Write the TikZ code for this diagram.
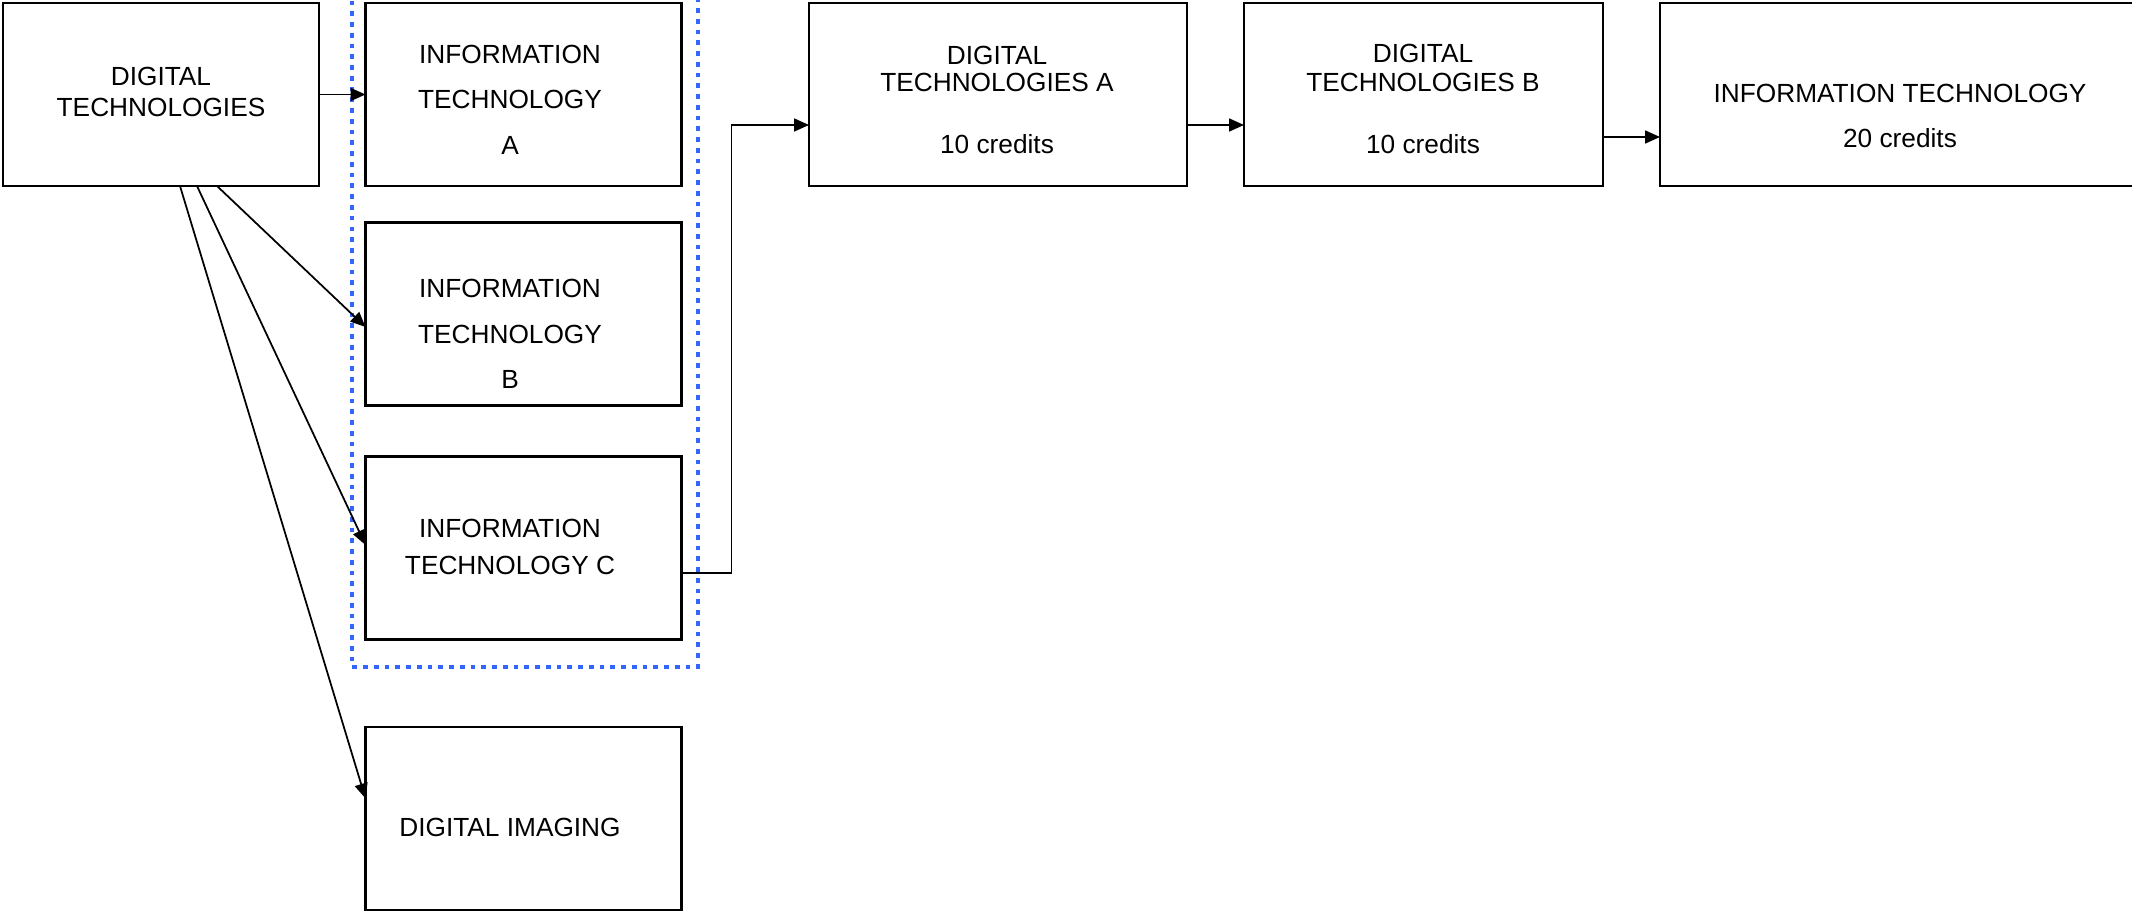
\documentclass[tikz,border=0pt]{standalone}
\usepackage{fontspec}
\setmainfont{Liberation Sans}
\usetikzlibrary{arrows.meta,calc}

\definecolor{itblue}{RGB}{51,102,255}

\tikzset{
  box/.style={draw, line width=1pt, rectangle, inner sep=0pt, outer sep=0pt, minimum width=126.4pt, minimum height=73.2pt},
  lbl/.style={inner sep=0pt, align=center, font=\fontsize{10.5pt}{10.8pt}\selectfont},
  arr/.style={line width=0.7pt, -{Triangle[length=6pt,width=5.2pt]}},
  itgroup/.style={draw=itblue, line width=1.9pt, dash pattern=on 1.9pt off 2.4pt}
}

\begin{document}
\begin{tikzpicture}[x=0.4pt,y=0.4pt,yscale=-1,xscale=1]
\useasboundingbox (0,0) rectangle (2132,912);

%Shape: dotted group round the IT options
\draw[itgroup] (352,-10) rectangle (698,667);

%Shape: boxes
\node[box] (dt)  at (161,94.5) {};
\node[box] (ita) at (523.5,94.5) {};
\node[box] (itb) at (523.5,314) {};
\node[box] (itc) at (523.5,548) {};
\node[box] (di)  at (523.5,818.5) {};
\node[box, minimum width=151.2pt] (dta) at (998,94.5) {};
\node[box, minimum width=143.6pt] (dtb) at (1423.5,94.5) {};
\node[box, minimum width=196pt]   (it)  at (1905,94.5) {};

%Straight Lines
\draw[arr] (dt) -- (ita);
\draw[arr] ($(dt.south)+(56,0)$) -- ($(itb.west)+(0,13)$);
\draw[arr] ($(dt.south)+(36,0)$) -- ($(itc.west)+(0,-3)$);
\draw[arr] ($(dt.south)+(19,0)$) -- ($(di.west)+(0,-20)$);
\draw[arr] ($(itc.east)+(0,25)$) -- ++(50,0) |- ($(dta.west)+(0,30.5)$);
\draw[arr] ($(dta.east)+(0,30.5)$) -- ($(dtb.west)+(0,30.5)$);
\draw[arr] ($(dtb.east)+(0,42.5)$) -- ($(it.west)+(0,42.5)$);

% Text Node
\node[lbl] (dt-txt) at (161,91.5) {DIGITAL\\[1.6pt]TECHNOLOGIES};
% Text Node
\node[lbl] (ita-txt) at (510,99.5) {INFORMATION\\[7.2pt]TECHNOLOGY\\[7.6pt]A};
% Text Node
\node[lbl] (itb-txt) at (510,333.5) {INFORMATION\\[7.6pt]TECHNOLOGY\\[7.2pt]B};
% Text Node
\node[lbl] (itc-txt) at (510,546.5) {INFORMATION\\[4pt]TECHNOLOGY C};
% Text Node
\node[lbl] (di-txt) at (510,827) {DIGITAL IMAGING};
% Text Node
\node[lbl] (dta-txt) at (997,99.5) {DIGITAL\\TECHNOLOGIES A\\[14pt]10 credits};
% Text Node
\node[lbl] (dtb-txt) at (1423,98.5) {DIGITAL\\[0.8pt]TECHNOLOGIES B\\[14pt]10 credits};
% Text Node
\node[lbl] (it-txt) at (1900,115.5) {INFORMATION TECHNOLOGY\\[7.2pt]20 credits};
\end{tikzpicture}
\end{document}
